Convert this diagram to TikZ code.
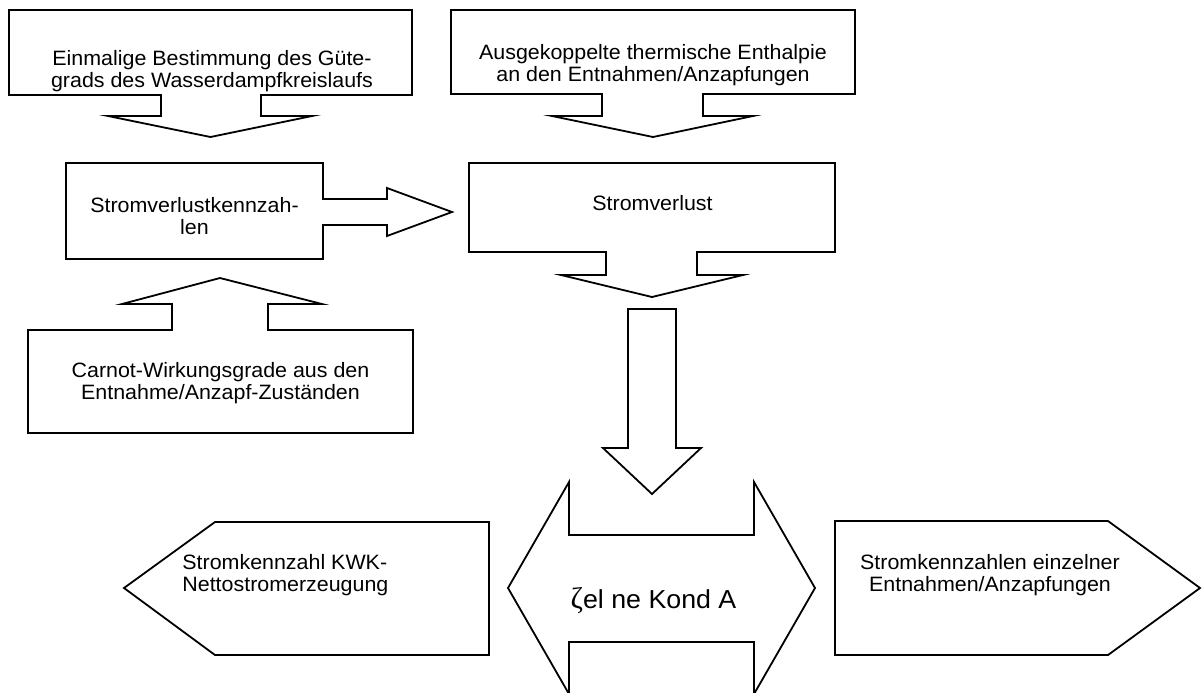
\documentclass[tikz,border=0pt]{standalone}
\usepackage{fontspec}
\setmainfont{Liberation Sans}[FakeStretch=1.03]
\newfontfamily\grk{Liberation Serif}
\begin{document}
\begin{tikzpicture}[x=0.5pt,y=-0.5pt,
  shp/.style={draw=black,line width=0.9pt,line join=miter,fill=white},
  lbl/.style={inner sep=0pt,font=\fontsize{10.4pt}{11.2pt}\selectfont,align=center},
  big/.style={inner sep=0pt,font=\fontsize{13pt}{15pt}\selectfont}]
\useasboundingbox (0,0) rectangle (1204,692);
% callout 1
\draw[shp] (9,10) -- (412,10) -- (412,95) -- (261,95) -- (261,116) -- (312,116) -- (210.5,137) -- (108,116) -- (161,116) -- (161,95) -- (9,95) -- cycle;
\node[lbl] (t1) at (212,71) {Einmalige Bestimmung des Güte-\\grads des Wasserdampfkreislaufs};
% callout 2
\draw[shp] (451,10) -- (855,10) -- (855,94) -- (703,94) -- (703,116) -- (753,116) -- (653,137) -- (552,116) -- (602,116) -- (602,94) -- (451,94) -- cycle;
\node[lbl] (t2) at (653,65) {Ausgekoppelte thermische Enthalpie\\an den Entnahmen/Anzapfungen};
% callout 3
\draw[shp] (66,163) -- (323,163) -- (323,199) -- (387,199) -- (387,188) -- (452,212) -- (387,236) -- (387,225) -- (323,225) -- (323,259) -- (66,259) -- cycle;
\node[lbl] (t3) at (194.5,216) {Stromverlustkennzah-\\len};
% callout 4
\draw[shp] (469,163) -- (835,163) -- (835,252) -- (697,252) -- (697,275) -- (743,275) -- (652,297) -- (561,275) -- (606,275) -- (606,252) -- (469,252) -- cycle;
\node[lbl,anchor=base] (t4) at (652.5,210) {Stromverlust};
% callout 5
\draw[shp] (28,330) -- (172,330) -- (172,304) -- (122,304) -- (220,278) -- (322,304) -- (268,304) -- (268,330) -- (413,330) -- (413,433) -- (28,433) -- cycle;
\node[lbl] (t5) at (220.5,383) {Carnot-Wirkungsgrade aus den\\Entnahme/Anzapf-Zuständen};
% down block arrow
\draw[shp] (628,309) -- (676,309) -- (676,448) -- (701,448) -- (652,494) -- (603,448) -- (628,448) -- cycle;
% double arrow
\draw[shp] (569,482) -- (569,535) -- (754,535) -- (754,482) -- (815,588) -- (754,694) -- (754,642) -- (569,642) -- (569,694) -- (508,588) -- cycle;
\node[big,anchor=base] (t6) at (653.5,608) {{\grk\fontsize{15pt}{15pt}\selectfont ζ}el ne Kond A};
% left pentagon
\draw[shp] (124,588) -- (215,522) -- (489,522) -- (489,655) -- (215,655) -- cycle;
\node[lbl,align=left,anchor=west] (t7) at (182,575) {Stromkennzahl KWK-\\Nettostromerzeugung};
% right pentagon
\draw[shp] (835,521) -- (1108,521) -- (1200,588) -- (1108,655) -- (835,655) -- cycle;
\node[lbl] (t8) at (990,575) {Stromkennzahlen einzelner\\Entnahmen/Anzapfungen};
\end{tikzpicture}
\end{document}
